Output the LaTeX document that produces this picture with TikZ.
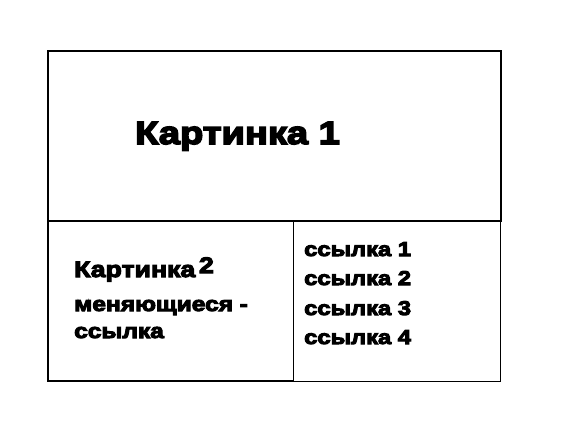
\documentclass[tikz,border=0pt]{standalone}
\usepackage{fontspec}
\newfontfamily\blackfont[FakeBold=5,FakeStretch=1.19]{Liberation Sans Bold}
\begin{document}
\begin{tikzpicture}[x=1pt,y=-1pt,
  thickline/.style={line width=2pt,line cap=rect},
  midline/.style={line width=1.4pt},
  thinline/.style={line width=1pt},
  txt/.style={inner sep=0pt,anchor=base west,font=\blackfont}]
\useasboundingbox[fill=white] (0,0) rectangle (573,433);
% frames
\draw[thickline] (48,221) -- (48,51) -- (501,51) -- (501,221);
\draw[midline] (48,221) -- (501,221);
\draw[thickline] (48,221) -- (48,381) -- (293,381);
\draw[thinline] (293,221) -- (293,381);
\draw[thinline] (293,381) -- (500.5,381) -- (500.5,221);
% texts
\node[txt,font=\blackfont\fontsize{32}{32}\selectfont] (k1) at (135,144) {Картинка 1};
\node[txt,font=\blackfont\fontsize{22.4}{22}\selectfont] (k2) at (74,277) {Картинка\,\raisebox{4pt}{2}};
\node[txt,font=\blackfont\fontsize{20.6}{20}\selectfont] (m) at (74,311) {меняющиеся -};
\node[txt,font=\blackfont\fontsize{20.6}{20}\selectfont] (s) at (74,338) {ссылка};
\node[txt,font=\blackfont\fontsize{20}{20}\selectfont] (l1) at (304,256) {ссылка 1};
\node[txt,font=\blackfont\fontsize{20}{20}\selectfont] (l2) at (304,285) {ссылка 2};
\node[txt,font=\blackfont\fontsize{20}{20}\selectfont] (l3) at (304,315) {ссылка 3};
\node[txt,font=\blackfont\fontsize{20}{20}\selectfont] (l4) at (304,344) {ссылка 4};
\end{tikzpicture}
\end{document}
